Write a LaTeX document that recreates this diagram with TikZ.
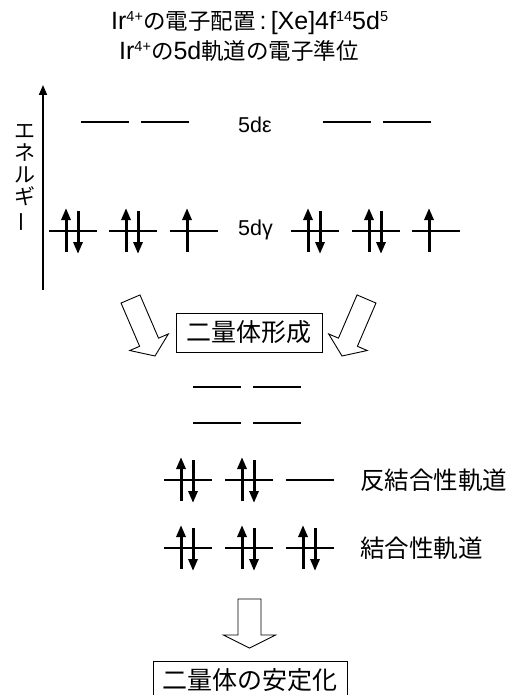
\documentclass[tikz,border=0pt]{standalone}
\usepackage{fontspec}
\usepackage{graphicx}
\setmainfont{Liberation Sans}
\newfontfamily\jp{Noto Sans CJK JP}
\usetikzlibrary{arrows.meta,calc}
\tikzset{
  lvl/.style={line width=1.8pt},
  spin/.style={line width=3pt,-{Triangle[length=12pt,width=9pt]}},
  axisline/.style={line width=1.8pt,-{Triangle[length=10pt,width=8pt]}},
  hollow/.style={draw,line width=0.9pt,fill=white,line join=miter},
  boxed/.style={draw,line width=0.9pt,inner sep=0pt,font=\fontsize{25}{28}\selectfont\jp},
  ttl/.style={inner sep=0pt,font=\fontsize{25}{28}\selectfont},
  lbl/.style={inner sep=0pt,font=\fontsize{21.5}{24}\selectfont},
  jlbl/.style={inner sep=0pt,font=\fontsize{24.5}{28}\selectfont\jp},
}
\newcommand\tj[1]{{\fontsize{22.5}{25}\selectfont\jp #1}}
\newcommand\sups[1]{\raisebox{8pt}{\fontsize{14.5}{15}\selectfont #1}}
% x of left end, y, number of electrons
\newcommand\orbital[3]{%
  \draw[lvl] (#1,#2) -- (#1+48,#2);
  \ifnum#3>0 \draw[spin] (#1+17,#2+21) -- (#1+17,#2-23);\fi
  \ifnum#3>1 \draw[spin] (#1+29,#2-20) -- (#1+29,#2+23);\fi
}
% start, tip, half shaft width, half head width, head length
\newcommand\fatarrow[5]{%
  \coordinate (fab) at ($(#2)!#5pt!(#1)$);
  \draw[hollow] ($(#1)!#3pt!90:(#2)$) -- ($(fab)!#3pt!90:(#2)$)
    -- ($(fab)!#4pt!90:(#2)$) -- (#2) -- ($(fab)!#4pt!-90:(#2)$)
    -- ($(fab)!#3pt!-90:(#2)$) -- ($(#1)!#3pt!-90:(#2)$) -- cycle;
}
\begin{document}
\begin{tikzpicture}[x=1pt,y=-1pt]
\useasboundingbox (0,0) rectangle (514,695);
\clip (0,0) rectangle (514,695);
% titles
\node[ttl,anchor=base west] (title1) at (111,30)
  {Ir\sups{4+}\tj{の電子配置}\,:\,[Xe]4f\sups{14}5d\sups{5}};
\node[ttl,anchor=base west] (title2) at (119,60)
  {Ir\sups{4+}\tj{の}5d\tj{軌道の電子準位}};
% energy axis
\coordinate (axb) at (43,290);
\coordinate (axt) at (43,85);
\draw[axisline] (axb) -- (axt);
\node[inner sep=0pt,align=center,font=\fontsize{21}{22}\selectfont\jp] (energy) at (25,178)
  {エ\\ネ\\ル\\ギ\\\rotatebox[origin=c]{90}{ー}};
% 5d epsilon
\orbital{81}{122}{0}
\orbital{141}{122}{0}
\orbital{323}{122}{0}
\orbital{383}{122}{0}
\node[lbl,anchor=base west] (lbleps) at (238,133) {5dε};
% 5d gamma
\orbital{49}{231}{2}
\orbital{109}{231}{2}
\orbital{170}{231}{1}
\orbital{291}{231}{2}
\orbital{352}{231}{2}
\orbital{412}{231}{1}
\node[lbl,anchor=base west] (lblgam) at (238,235) {5dγ};
% arrows to dimer formation
\coordinate (las) at (130.5,299);
\coordinate (lat) at (155,356);
\fatarrow{las}{lat}{10.3}{21}{15}
\coordinate (ras) at (366.5,299);
\coordinate (rat) at (342,356);
\fatarrow{ras}{rat}{10.3}{21}{15}
\node[boxed,minimum width=146pt,minimum height=39pt] (form) at (249,332.5) {二量体形成};
% dimer levels
\orbital{193}{387}{0}
\orbital{253}{387}{0}
\orbital{193}{423}{0}
\orbital{253}{423}{0}
\orbital{164}{480}{2}
\orbital{225}{480}{2}
\orbital{286}{480}{0}
\node[jlbl,anchor=base west] (lblanti) at (360,489) {反結合性軌道};
\orbital{164}{548}{2}
\orbital{225}{548}{2}
\orbital{286}{548}{2}
\node[jlbl,anchor=base west] (lblbond) at (360,557) {結合性軌道};
% stabilisation
\coordinate (bas) at (249.5,599);
\coordinate (bat) at (249.5,648);
\fatarrow{bas}{bat}{11.5}{26}{13}
\node[boxed,minimum width=194pt,minimum height=39pt] (stab) at (250,680.5) {二量体の安定化};
\end{tikzpicture}
\end{document}
